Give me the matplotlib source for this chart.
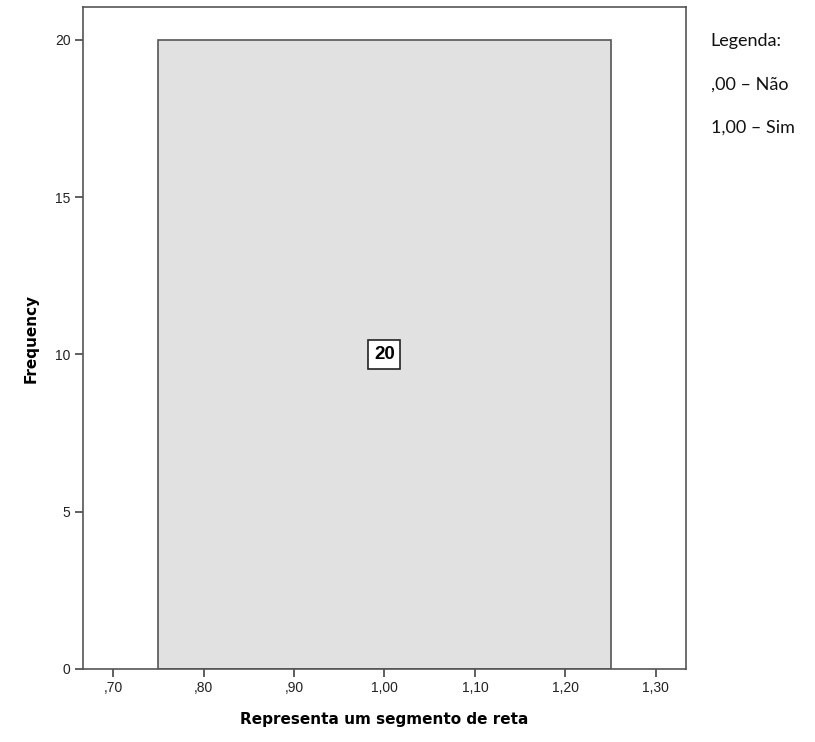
import matplotlib
matplotlib.use("Agg")
import matplotlib.pyplot as plt

# Dados
categorias = [1.0]
frequencias = [20]
largura = 0.5
xticks = [0.7, 0.8, 0.9, 1.0, 1.1, 1.2, 1.3]
xtick_labels = [",70", ",80", ",90", "1,00", "1,10", "1,20", "1,30"]
yticks = [0, 5, 10, 15, 20]
legenda = ["Legenda:", ",00 – Não", "1,00 – Sim"]

fig = plt.figure(figsize=(8.15, 7.42), dpi=100)
ax = fig.add_axes([0.1018, 0.0984, 0.7399, 0.8922])

ax.bar(categorias, frequencias, width=largura, color="#e1e1e1",
       edgecolor="#555555", linewidth=1.2, zorder=2)

# Rotulo no centro da barra
for c, f in zip(categorias, frequencias):
    ax.text(c, f / 2, str(f), ha="center", va="center", fontsize=13.5,
            fontweight="bold", family=["Liberation Sans Narrow", "Liberation Sans"],
            bbox=dict(boxstyle="square,pad=0.3", fc="white", ec="#222222", lw=1.2))

ax.set_xlim(0.6667, 1.3333)
ax.set_ylim(0, 21.05)
ax.set_xticks(xticks)
ax.set_xticklabels(xtick_labels)
ax.set_yticks(yticks)
for lbl in ax.get_xticklabels() + ax.get_yticklabels():
    lbl.set_family("Liberation Sans")

for s in ax.spines.values():
    s.set_color("#555555")
    s.set_linewidth(1.2)
ax.tick_params(direction="out", length=6, width=1.2, color="#444444",
               labelsize=10, labelcolor="#222222", pad=3)

ax.set_xlabel("Representa um segmento de reta", fontsize=11, fontweight="bold", labelpad=12)
ax.set_ylabel("Frequency", fontsize=11, fontweight="bold", labelpad=12)

# Legenda em texto
ys = [0.945, 0.886, 0.828]
for t, y in zip(legenda, ys):
    fig.text(0.872, y, t, fontsize=13, family="Lato", va="center", color="#111111")

fig.savefig("out.png", dpi=100)
